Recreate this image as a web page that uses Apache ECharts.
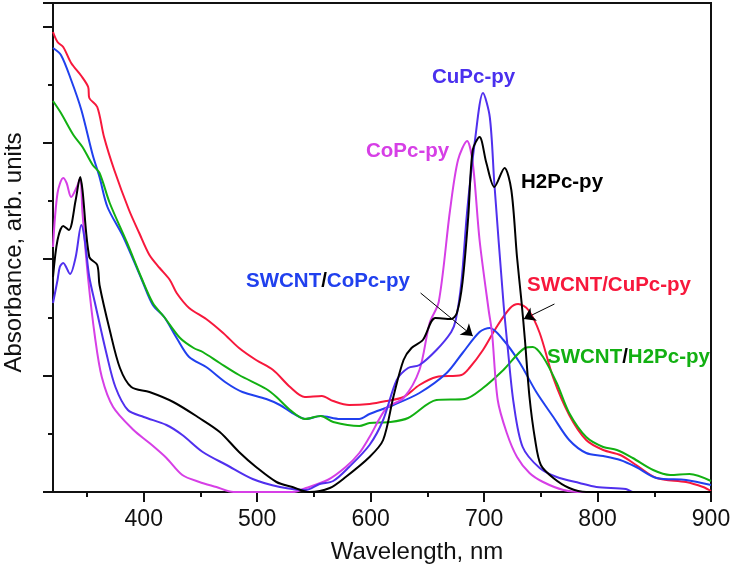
<!DOCTYPE html>
<html><head><meta charset="utf-8">
<style>html,body{margin:0;padding:0;background:#fff}#c{width:733px;height:567px}</style>
<script src="https://cdn.jsdelivr.net/npm/echarts@6/dist/echarts.min.js"></script>
</head><body><div id="c"></div>
<script>
const redX=[320,324,329,336,345,351,352,359,365,374,387,396,405,414,423,429,440,455,470,484,499,514,529,542,557,567,581,599,614,629,643,658,680,687,699,711,723,730,739,749,761,775,790,805,820,834,852,878,893,900];
const redY=[460,450,445,429,416,405,394,385,355,322,282,259,237,224,212,199,184,173,159,144,132,122,105,95,96,91,87,88,91,95,107,115,117,124,142,165,184,188,182,159,114,77,52,42,37,27,14,10,5,1];
const blueX=[320,327,336,345,355,361,368,382,398,408,418,429,440,455,473,487,508,520,531,543,556,573,590,599,620,643,667,681,696,705,717,731,746,761,775,790,805,820,834,852,878,900];
const blueY=[444,437,412,382,337,315,285,255,213,187,175,154,135,125,109,100,93,87,79,73,76,73,73,78,87,99,119,139,160,164,152,130,100,75,52,39,36,32,25,14,12,7];
const greenX=[320,327,338,346,355,361,370,385,398,408,418,432,444,452,467,484,508,517,529,542,556,567,590,599,617,633,658,683,699,717,736,743,752,764,775,790,805,817,831,849,864,881,900];
const greenY=[391,379,357,345,327,319,289,250,214,189,175,154,144,140,129,117,103,95,82,73,76,70,66,69,70,74,92,93,104,122,144,145,135,109,79,55,45,42,34,22,17,18,11];
const coX=[320,324,329,332,336,341,344,346,351,357,363,373,391,405,420,434,449,464,479,531,543,562,578,590,599,614,629,643,652,660,670,677,685,690,696,704,707,712,720,729,740,752,770,787,900];
const coY=[245,299,314,309,295,305,314,279,213,155,115,85,62,49,34,17,10,5,0,0,4,12,25,39,55,84,94,122,169,190,282,332,351,329,252,182,159,92,59,35,19,10,2,0,0];
const cuX=[320,324,326,329,335,340,345,348,352,357,367,375,386,400,420,434,452,473,496,520,543,555,567,581,599,611,623,633,643,658,671,675,680,685,692,699,705,709,717,721,726,734,749,764,784,799,825,831,900];
const cuY=[189,212,225,229,218,235,267,252,215,189,139,105,82,75,67,57,40,27,13,5,2,8,11,25,47,72,112,124,127,142,160,172,210,280,352,399,375,309,190,142,89,45,24,15,9,5,3,0,0];
const h2X=[320,324,329,334,340,344,346,352,359,361,370,379,389,405,426,449,467,484,499,517,531,546,564,578,599,611,620,629,636,646,657,671,676,681,686,690,696,702,709,718,724,729,733,736,740,745,750,761,775,790,900];
const h2Y=[215,252,266,262,292,315,302,235,227,207,162,124,105,100,90,74,60,40,25,10,5,0,4,15,35,52,95,132,144,152,174,173,179,210,275,342,355,329,305,324,302,235,190,152,95,52,27,14,4,0,0];
const xMajor=[400,500,600,700,800,900];
const xMinor=[350,450,550,650,750,850];
const xName='Wavelength, nm', yName='Absorbance, arb. units';
const font='"Liberation Sans",Arial,sans-serif';
const axLine={lineStyle:{color:'#111',width:2}};
const tick=(len)=>({show:true,length:len,lineStyle:{color:'#111',width:2}});
function s(name,xs,ys,color,extra){
  return Object.assign({name,type:'line',data:xs.map((x,i)=>[x,ys[i]]),showSymbol:false,smooth:0.3,
    lineStyle:{color,width:2},itemStyle:{color},xAxisIndex:0,yAxisIndex:0,animation:false},extra||{});
}
const chart=echarts.init(document.getElementById('c'),null,{renderer:'canvas'});
const mk=(from,to)=>[{coord:from},{coord:to}];
const lab='bold 20.5px '+font;
chart.setOption({
  animation:false,backgroundColor:'#fff',
  grid:{left:53,right:22,top:3,bottom:75,outerBoundsMode:'none',containLabel:false,show:true,borderColor:'#111',borderWidth:2,backgroundColor:'transparent'},
  xAxis:[{type:'value',min:320,max:900,position:'bottom',name:xName,nameLocation:'middle',nameGap:48,
    nameTextStyle:{fontFamily:font,fontSize:24,color:'#111',padding:[0,0,0,70]},axisLine:axLine,splitLine:{show:false},
    axisTick:Object.assign(tick(10),{customValues:xMajor}),
    axisLabel:{customValues:xMajor,fontFamily:font,fontSize:23,color:'#111',margin:16}},
   {type:'value',min:320,max:900,position:'bottom',axisLine:{show:false},splitLine:{show:false},
    axisTick:Object.assign(tick(5),{customValues:xMinor}),axisLabel:{show:false}}],
  yAxis:[{type:'value',min:0,max:489,interval:116.4,name:yName,nameLocation:'middle',nameGap:27,
    nameTextStyle:{fontFamily:font,fontSize:24,color:'#111',padding:[0,10,0,0]},axisLine:axLine,splitLine:{show:false},
    axisTick:tick(10),minorTick:{show:true,splitNumber:2,length:5,lineStyle:{color:'#111',width:2}},axisLabel:{show:false}}],
  series:[
    s('SWCNT/CuPc-py',redX,redY,'#f7183c'),
    s('SWCNT/CoPc-py',blueX,blueY,'#2040ee'),
    s('SWCNT/H2Pc-py',greenX,greenY,'#12b012'),
    s('CoPc-py',coX,coY,'#d63fe6'),
    s('CuPc-py',cuX,cuY,'#5030ee'),
    s('H2Pc-py',h2X,h2Y,'#000000',{markLine:{silent:true,animation:false,symbol:['none','arrow'],symbolSize:11,
      label:{show:false},lineStyle:{color:'#000',width:1,type:'solid'},
      data:[mk([644,199],[690,156]),mk([762,188],[735,173])]}})
  ],
  graphic:[
    {type:'text',left:432,top:67,style:{text:'CuPc-py',font:lab,fill:'#4a30ee'}},
    {type:'text',left:366,top:141,style:{text:'CoPc-py',font:lab,fill:'#d63fe6'}},
    {type:'text',left:521,top:172,style:{text:'H2Pc-py',font:lab,fill:'#000'}},
    {type:'text',left:246,top:271,style:{rich:{a:{font:lab,fill:'#2040ee'},b:{font:lab,fill:'#000'}},text:'{a|SWCNT}{b|/}{a|CoPc-py}'}},
    {type:'text',left:527,top:275,style:{text:'SWCNT/CuPc-py',font:lab,fill:'#f7183c'}},
    {type:'text',left:547,top:347,style:{rich:{a:{font:lab,fill:'#12b012'},b:{font:lab,fill:'#000'}},text:'{a|SWCNT}{b|/}{a|H2Pc-py}'}}
  ]
});
</script></body></html>
